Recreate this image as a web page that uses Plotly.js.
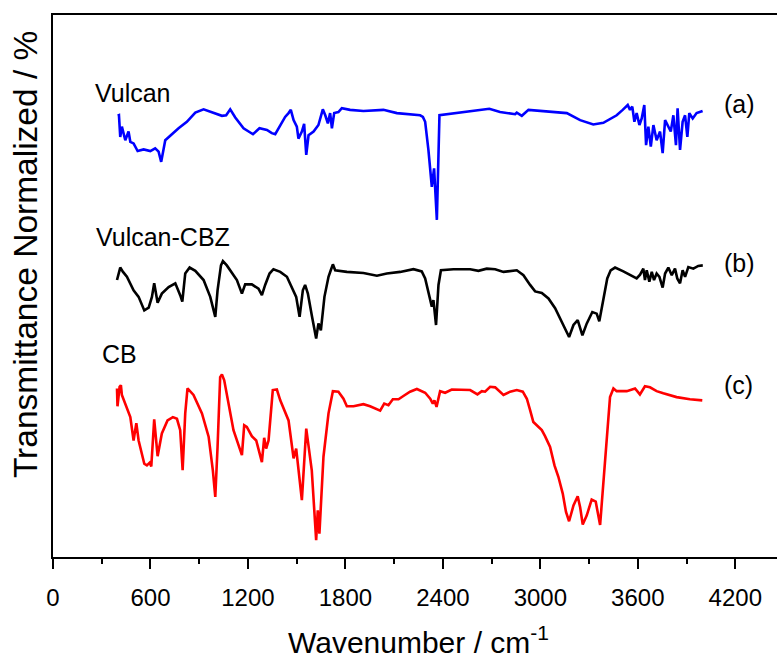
<!DOCTYPE html>
<html>
<head>
<meta charset="utf-8">
<script src="https://cdn.plot.ly/plotly-3.0.1.min.js"></script>
<style>
html, body { margin: 0; padding: 0; overflow: hidden; background: #fff; }
#chart { width: 800px; height: 662px; }
</style>
</head>
<body>
<div id="chart"></div>
<script>
// Wavenumbers (cm^-1) and normalized transmittance values
const cbWn = [394,397,410,418,424,476,496,513,527,562,578,595,605,623,644,670,705,738,763,783,798,814,828,865,917,958,984,999,1013,1029,1040,1054,1111,1163,1177,1193,1224,1251,1286,1300,1312,1327,1353,1378,1399,1450,1481,1497,1532,1559,1593,1620,1630,1640,1665,1696,1723,1757,1788,1809,1850,1911,1952,2014,2039,2065,2092,2127,2157,2198,2240,2291,2322,2338,2348,2361,2383,2414,2455,2568,2613,2640,2660,2691,2722,2773,2814,2855,2892,2917,2937,2957,2978,3009,3029,3060,3087,3111,3138,3158,3177,3204,3230,3245,3261,3286,3316,3341,3368,3388,3409,3429,3450,3470,3532,3583,3613,3644,3675,3716,3757,3839,3921,3997];
const cbT = [31.1,27.8,31.4,31.7,29.9,25.8,21.5,24.7,21.5,17.2,16.9,17.4,16.7,25.4,18.6,22.8,25.2,25.8,25.5,23.4,16.0,26.5,31.1,29.9,26.5,22.2,16.0,11.1,20.3,33.2,33.7,32.6,23.4,18.8,24.3,24.0,22.3,21.5,17.5,22.0,20.0,21.5,30.8,30.9,28.9,25.2,18.2,20.0,10.5,23.7,16.0,3.1,8.6,4.3,18.5,26.5,30.6,30.5,29.2,27.8,27.8,28.2,27.8,27.0,28.3,28.0,29.1,29.1,29.7,30.5,31.0,30.3,29.2,28.3,28.9,27.7,30.6,30.3,30.9,30.8,30.0,30.6,30.5,31.4,31.3,29.9,30.5,30.8,30.5,29.2,27.1,24.9,24.3,23.4,22.3,20.3,16.9,14.8,11.7,8.3,6.6,9.5,11.2,9.2,6.0,7.7,10.6,10.2,5.9,14.2,22.8,29.5,31.1,30.6,30.6,31.1,30.0,31.5,31.3,30.6,30.2,29.5,29.1,28.9];

const cbzWn = [394,414,431,455,496,527,562,589,609,623,644,670,712,753,783,796,814,841,876,927,968,999,1013,1034,1046,1070,1132,1163,1183,1224,1265,1286,1306,1333,1357,1399,1440,1481,1497,1518,1538,1552,1569,1593,1620,1634,1649,1671,1696,1710,1723,1737,1809,1911,1994,2055,2137,2219,2270,2291,2318,2332,2342,2358,2373,2388,2465,2568,2619,2670,2722,2773,2855,2896,2937,2968,3009,3050,3091,3132,3177,3204,3230,3259,3286,3320,3347,3363,3388,3412,3433,3460,3511,3573,3593,3614,3634,3644,3655,3671,3686,3700,3716,3733,3753,3768,3788,3809,3829,3843,3860,3876,3891,3911,3942,3972,4000];
const cbzT = [51.1,53.4,52.6,51.7,49.2,48.0,45.5,46.0,48.0,50.5,46.9,48.6,49.8,50.5,48.3,47.1,52.3,53.4,52.8,51.1,48.0,44.3,49.2,53.8,54.6,53.8,51.1,48.6,50.3,50.3,49.5,48.3,50.2,52.3,53.1,52.6,51.7,49.2,48.0,44.3,49.2,50.2,48.6,44.6,40.3,43.1,41.8,48.0,51.7,52.9,54.0,52.9,52.6,52.4,51.9,52.3,52.6,53.1,52.7,51.4,48.3,46.2,47.4,42.8,50.2,52.9,53.1,53.1,52.8,53.2,53.1,52.6,52.9,52.0,50.2,49.0,48.7,47.7,45.9,43.4,40.6,42.8,43.7,40.9,43.1,45.2,44.9,43.5,47.7,51.4,52.9,53.4,52.7,51.7,51.4,52.1,53.2,51.1,52.9,50.8,52.6,51.1,52.3,51.7,49.7,52.3,53.4,52.0,53.2,51.4,50.5,52.9,51.7,53.5,53.2,53.7,53.8];

const vulWn = [398,406,414,424,445,465,476,496,521,558,599,629,650,666,691,722,773,824,876,927,978,1040,1066,1091,1122,1173,1231,1271,1317,1347,1368,1399,1429,1450,1464,1481,1501,1511,1532,1546,1559,1573,1604,1634,1661,1676,1692,1706,1717,1731,1757,1778,1829,1911,2034,2117,2260,2277,2291,2311,2332,2346,2363,2379,2506,2686,2752,2845,2855,2886,2927,3019,3163,3245,3326,3388,3470,3507,3538,3552,3566,3579,3593,3610,3624,3640,3651,3665,3680,3696,3716,3737,3753,3768,3788,3803,3819,3835,3845,3860,3876,3891,3905,3917,3938,3962,3999];
const vulT = [81.4,81.5,77.5,79.4,76.9,78.5,76.6,76.3,74.9,75.2,74.9,75.4,74.8,72.9,76.9,77.8,79.1,80.3,82.0,82.6,82.0,81.4,81.5,82.6,81.1,79.1,78.0,79.1,78.8,78.2,78.0,79.7,81.2,81.9,82.5,80.6,79.4,77.2,78.5,79.9,74.2,77.8,78.5,79.7,82.6,81.5,80.0,81.9,79.1,81.9,82.1,82.8,82.5,82.3,82.5,81.9,81.5,81.2,80.3,75.1,68.3,71.7,62.2,81.5,82.0,82.7,82.1,81.7,82.0,81.4,82.5,82.3,81.9,80.6,79.8,80.1,81.5,82.5,83.4,82.5,83.1,80.3,81.9,79.7,80.9,83.4,76.0,79.4,75.7,79.7,76.9,78.5,74.5,80.6,79.4,78.5,81.5,76.0,82.8,75.1,80.3,81.5,77.5,81.9,80.9,81.9,82.3];

const xTickVals = [0,600,1200,1800,2400,3000,3600,4200];
const seriesNames = ['Vulcan','Vulcan-CBZ','CB'];
const seriesTags = ['(a)','(b)','(c)'];

const FONT = 'Arial, "Liberation Sans", sans-serif';

const traces = [
  {x: vulWn, y: vulT, name: seriesNames[0], mode: 'lines', line: {color: '#0000ff', width: 2.6}},
  {x: cbzWn, y: cbzT, name: seriesNames[1], mode: 'lines', line: {color: '#000000', width: 2.6}},
  {x: cbWn, y: cbT, name: seriesNames[2], mode: 'lines', line: {color: '#ff0000', width: 2.6}}
];

const ann = (text, x, y, xa) => ({text, x, y, xref: 'x', yref: 'y', xanchor: xa, yanchor: 'middle', showarrow: false, font: {family: FONT, size: 25, color: '#000'}});

const layout = {
  width: 800, height: 662,
  margin: {l: 53, r: 16, t: 15, b: 105},
  paper_bgcolor: '#fff', plot_bgcolor: '#fff',
  showlegend: false,
  font: {family: FONT, color: '#000'},
  xaxis: {
    range: [0, 4500], tickvals: xTickVals, ticktext: xTickVals.map(String),
    ticks: 'outside', ticklen: 10, tickwidth: 2, tickcolor: '#000',
    ticklabelstandoff: 8,
    minor: {dtick: 300, tick0: 0, ticks: 'outside', ticklen: 5, tickwidth: 2, tickcolor: '#000'},
    showline: true, linecolor: '#000', linewidth: 2, mirror: true,
    showgrid: false, zeroline: false,
    tickfont: {family: FONT, size: 24, color: '#000'}
  },
  yaxis: {
    range: [0, 100], showticklabels: false, ticks: '',
    showline: true, linecolor: '#000', linewidth: 2, mirror: true,
    showgrid: false, zeroline: false
  },
  annotations: [
    ann(seriesNames[0], 248, 85.6, 'left'),
    ann(seriesNames[1], 250, 59.0, 'left'),
    ann(seriesNames[2], 287, 37.4, 'left'),
    ann(seriesTags[0], 4116, 83.6, 'left'),
    ann(seriesTags[1], 4116, 54.2, 'left'),
    ann(seriesTags[2], 4116, 31.7, 'left'),
    {text: 'Wavenumber / cm<sup>-1</sup>', xref: 'paper', yref: 'paper', x: 0.5, y: -0.192, xanchor: 'center', yanchor: 'bottom', showarrow: false, font: {family: FONT, size: 30, color: '#000'}},
    {text: 'Transmittance Normalized / %', xref: 'paper', yref: 'paper', x: -0.0383, y: 0.557, xanchor: 'center', yanchor: 'middle', textangle: -90, showarrow: false, font: {family: FONT, size: 33.5, color: '#000'}}
  ]
};

Plotly.newPlot('chart', traces, layout, {displayModeBar: false, staticPlot: true});
</script>
</body>
</html>
